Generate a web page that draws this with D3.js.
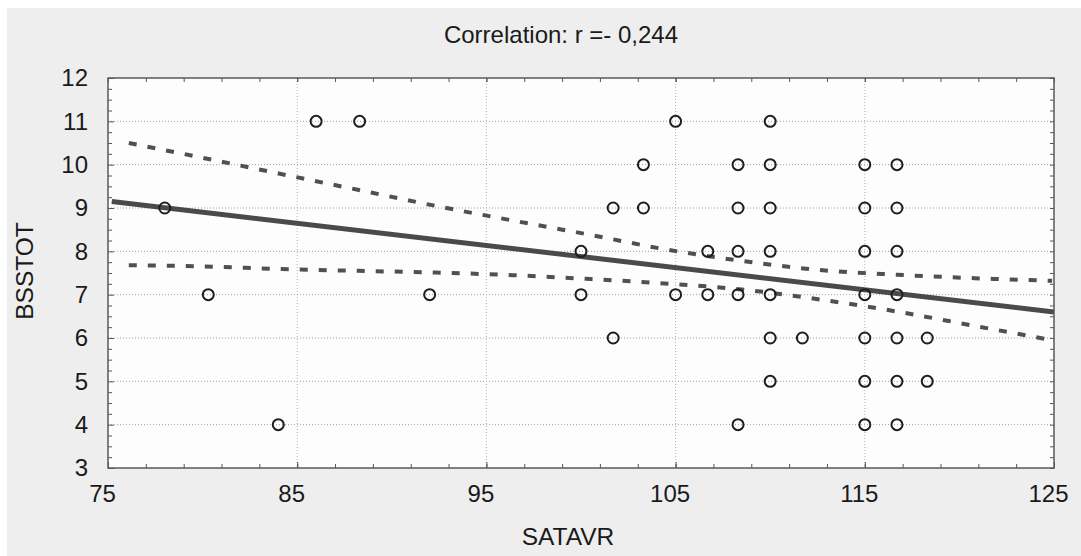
<!DOCTYPE html>
<html>
<head>
<meta charset="utf-8">
<script src="https://cdn.jsdelivr.net/npm/d3@7"></script>
<style>
  body { margin: 0; background: #ffffff; }
  svg text { font-family: "Liberation Sans", Arial, sans-serif; fill: #1a1a1a; }
</style>
</head>
<body>
<svg id="chart" width="1081" height="556"></svg>
<script>
// scatter data
var satavr = [78, 80.3, 84, 86, 88.3, 92, 100, 100, 101.7, 101.7, 103.3, 103.3, 105, 105,
  106.7, 106.7, 108.3, 108.3, 108.3, 108.3, 108.3,
  110, 110, 110, 110, 110, 110, 110, 111.7,
  115, 115, 115, 115, 115, 115, 115,
  116.7, 116.7, 116.7, 116.7, 116.7, 116.7, 116.7,
  118.3, 118.3];
var bsstot = [9, 7, 4, 11, 11, 7, 8, 7, 9, 6, 10, 9, 11, 7,
  8, 7, 10, 9, 8, 7, 4,
  11, 10, 9, 8, 7, 6, 5, 6,
  10, 9, 8, 7, 6, 5, 4,
  10, 9, 8, 7, 6, 5, 4,
  6, 5];

// fitted line and 95% band
var fitX = [75.2, 125];
var fitY = [9.15, 6.6];
var bandX = [76.1, 80.1, 84.2, 88.2, 92.3, 96.4, 100.5, 104.4, 108.5, 112.6, 116.7, 120.8, 124.9];
var bandUpper = [10.5, 10.15, 9.78, 9.42, 9.05, 8.71, 8.38, 8.05, 7.78, 7.57, 7.46, 7.38, 7.32];
var bandLower = [7.68, 7.65, 7.59, 7.55, 7.51, 7.45, 7.36, 7.26, 7.12, 6.89, 6.61, 6.28, 5.95];

// ticks
var xTicks = [75, 85, 95, 105, 115, 125];
var yTicks = [3, 4, 5, 6, 7, 8, 9, 10, 11, 12];
var xGrid = [85, 95, 105, 115];
var yGrid = [4, 5, 6, 7, 8, 9, 10, 11];

var title = "Correlation: r =- 0,244";
var xLabel = "SATAVR";
var yLabel = "BSSTOT";

var svg = d3.select("#chart");
var margin = { top: 78, left: 108, right: 1081 - 1054, bottom: 556 - 468 };
var width = 1081 - margin.left - margin.right;
var height = 556 - margin.top - margin.bottom;

// grey panel
svg.append("rect")
  .attr("x", 7).attr("y", 8)
  .attr("width", 1081 - 7).attr("height", 556 - 8)
  .attr("fill", "#eeeeee");

var x = d3.scaleLinear().domain([75, 125]).range([0, width]);
var y = d3.scaleLinear().domain([3, 12]).range([height, 0]);

var g = svg.append("g")
  .attr("transform", "translate(" + margin.left + "," + margin.top + ")");

g.append("rect")
  .attr("width", width).attr("height", height)
  .attr("fill", "#fdfdfd");

// dotted grid
g.selectAll(".hgrid").data(yGrid).enter().append("line")
  .attr("x1", 0).attr("x2", width)
  .attr("y1", function (d) { return y(d); })
  .attr("y2", function (d) { return y(d); })
  .attr("stroke", "#a0a0a0").attr("stroke-width", 1)
  .attr("stroke-dasharray", "1,2");
g.selectAll(".vgrid").data(xGrid).enter().append("line")
  .attr("y1", 0).attr("y2", height)
  .attr("x1", function (d) { return x(d); })
  .attr("x2", function (d) { return x(d); })
  .attr("stroke", "#b4b4b4").attr("stroke-width", 1)
  .attr("stroke-dasharray", "1,2");

// confidence band
var line = d3.line()
  .x(function (d) { return x(d[0]); })
  .y(function (d) { return y(d[1]); })
  .curve(d3.curveMonotoneX);

[bandUpper, bandLower].forEach(function (b) {
  g.append("path")
    .datum(bandX.map(function (v, i) { return [v, b[i]]; }))
    .attr("d", line)
    .attr("fill", "none")
    .attr("stroke", "#505050")
    .attr("stroke-width", 4)
    .attr("stroke-dasharray", "8,11");
});

// regression line
g.append("path")
  .datum(fitX.map(function (v, i) { return [v, fitY[i]]; }))
  .attr("d", line)
  .attr("fill", "none")
  .attr("stroke", "#4a4a4a")
  .attr("stroke-width", 5);

// points
g.selectAll(".pt").data(satavr).enter().append("circle")
  .attr("cx", function (d) { return x(d); })
  .attr("cy", function (d, i) { return y(bsstot[i]); })
  .attr("r", 5.5)
  .attr("fill", "none")
  .attr("stroke", "#1e1e1e")
  .attr("stroke-width", 2);

// axes, ticks inside
function styleAxis(sel) {
  sel.select(".domain").remove();
  sel.selectAll(".tick line").attr("stroke", "#555");
  sel.selectAll(".tick text").attr("fill", "#1a1a1a").style("font-size", "24px");
}

var xMinor = d3.range(77, 125, 2);
var yMinor = d3.range(3.25, 12, 0.25).filter(function (d) { return d % 1 !== 0; });

g.append("g").attr("transform", "translate(0," + height + ")")
  .call(d3.axisBottom(x).tickValues(xTicks).tickSize(-6).tickPadding(17).tickFormat(d3.format("d")))
  .call(styleAxis)
  .selectAll(".tick text").attr("dx", -6);
g.append("g").attr("transform", "translate(0," + height + ")")
  .call(d3.axisBottom(x).tickValues(xMinor).tickSize(-4).tickFormat(""))
  .call(styleAxis);
g.append("g")
  .call(d3.axisTop(x).tickValues(xMinor.concat(xTicks)).tickSize(-4).tickFormat(""))
  .call(styleAxis);

g.append("g")
  .call(d3.axisLeft(y).tickValues(yTicks).tickSize(-6).tickPadding(20).tickFormat(d3.format("d")))
  .call(styleAxis);
g.append("g")
  .call(d3.axisLeft(y).tickValues(yMinor).tickSize(-4).tickFormat(""))
  .call(styleAxis);
g.append("g").attr("transform", "translate(" + width + ",0)")
  .call(d3.axisRight(y).tickValues(yMinor.concat(yTicks)).tickSize(-4).tickFormat(""))
  .call(styleAxis);

// frame
g.append("rect")
  .attr("width", width).attr("height", height)
  .attr("fill", "none")
  .attr("stroke", "#5a5a5a")
  .attr("stroke-width", 1.5);

// title and labels
svg.append("text")
  .attr("x", 561).attr("y", 43)
  .attr("text-anchor", "middle")
  .style("font-size", "24px")
  .text(title);

svg.append("text")
  .attr("x", 568).attr("y", 545)
  .attr("text-anchor", "middle")
  .style("font-size", "24.5px")
  .text(xLabel);

svg.append("text")
  .attr("transform", "translate(33,271) rotate(-90)")
  .attr("text-anchor", "middle")
  .style("font-size", "24.5px")
  .text(yLabel);
</script>
</body>
</html>
